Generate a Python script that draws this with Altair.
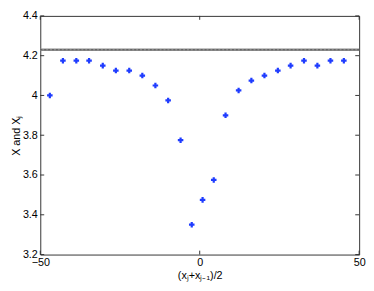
import altair as alt
import pandas as pd

xs = [-47.0, -42.9, -38.7, -34.7, -30.4, -26.3, -22.1, -18.0, -13.9, -9.9, -6.0,
      -2.5, 0.9, 4.4, 8.1, 12.2, 16.2, 20.3, 24.5, 28.5, 32.7, 36.9, 41.0, 45.2]
ys = [4.0, 4.175, 4.175, 4.175, 4.15, 4.125, 4.125, 4.1, 4.05, 3.975, 3.775,
      3.35, 3.475, 3.575, 3.9, 4.025, 4.075, 4.1, 4.125, 4.15, 4.175, 4.15, 4.175, 4.175]
ref_level = 4.23
x_ticks = [-50, 0, 50]
y_ticks = [3.2, 3.4, 3.6, 3.8, 4.0, 4.2, 4.4]

W, H = 326, 244
FONT = "Liberation Sans"

xsc = alt.Scale(domain=[-50, 50], nice=False, zero=False)
ysc = alt.Scale(domain=[3.2, 4.4], nice=False, zero=False)

pts = pd.DataFrame({"x": xs, "y": ys})
hline = pd.DataFrame({"x": [-50], "x2": [50], "y": [ref_level]})
xt = pd.DataFrame({"t": x_ticks})
yt = pd.DataFrame({"t": y_ticks})

xaxis = alt.Axis(values=x_ticks, ticks=False, domain=False, grid=False,
                 labelFontSize=11, labelFont=FONT, labelColor="#000", labelPadding=2,
                 title="(xⱼ+xⱼ₋₁)/2", titleFont=FONT, titleFontSize=11,
                 titleFontWeight="normal", titleColor="#000", titlePadding=2,
                 labelFlush=False)
yaxis = alt.Axis(values=y_ticks, ticks=False, domain=False, grid=False,
                 labelFontSize=11, labelFont=FONT, labelColor="#000", labelPadding=3,
                 title="X and Xⱼ", titleFont=FONT, titleFontSize=11,
                 titleFontWeight="normal", titleColor="#000", titlePadding=1,
                 format=".1f", labelExpr="datum.value == 4 ? '4' : datum.label",
                 labelFlush=False)

line_solid = alt.Chart(hline).mark_rule(color="#8a8a8a", strokeWidth=2.5).encode(
    x=alt.X("x:Q", scale=xsc, axis=xaxis), x2="x2:Q",
    y=alt.Y("y:Q", scale=ysc, axis=yaxis))
line_dash = alt.Chart(hline).mark_rule(color="#5a5a5a", strokeWidth=1, strokeDash=[2, 2]).encode(
    x=alt.X("x:Q", scale=xsc), x2="x2:Q", y=alt.Y("y:Q", scale=ysc))

points = alt.Chart(pts).mark_point(shape="cross", filled=True, size=32,
                                   color="#1f3cff", opacity=1).encode(
    x=alt.X("x:Q", scale=xsc), y=alt.Y("y:Q", scale=ysc))

yt_left = alt.Chart(yt).mark_rule(color="#333", strokeWidth=1).encode(
    y=alt.Y("t:Q", scale=ysc), x=alt.value(0), x2=alt.value(4))
yt_right = alt.Chart(yt).mark_rule(color="#333", strokeWidth=1).encode(
    y=alt.Y("t:Q", scale=ysc), x=alt.value(W - 4), x2=alt.value(W))
xt_bot = alt.Chart(xt).mark_rule(color="#333", strokeWidth=1).encode(
    x=alt.X("t:Q", scale=xsc), y=alt.value(H - 4), y2=alt.value(H))
xt_top = alt.Chart(xt).mark_rule(color="#333", strokeWidth=1).encode(
    x=alt.X("t:Q", scale=xsc), y=alt.value(0), y2=alt.value(4))

chart = alt.layer(line_solid, line_dash, points, yt_left, yt_right, xt_bot, xt_top).properties(
    width=W, height=H,
    autosize=alt.AutoSizeParams(type="none"),
    padding={"left": 33, "top": 5, "right": 7, "bottom": 26},
    background="white",
).configure_view(stroke="#333", strokeWidth=1)

chart.save("out.html", embed_options={"renderer": "svg", "actions": False})
